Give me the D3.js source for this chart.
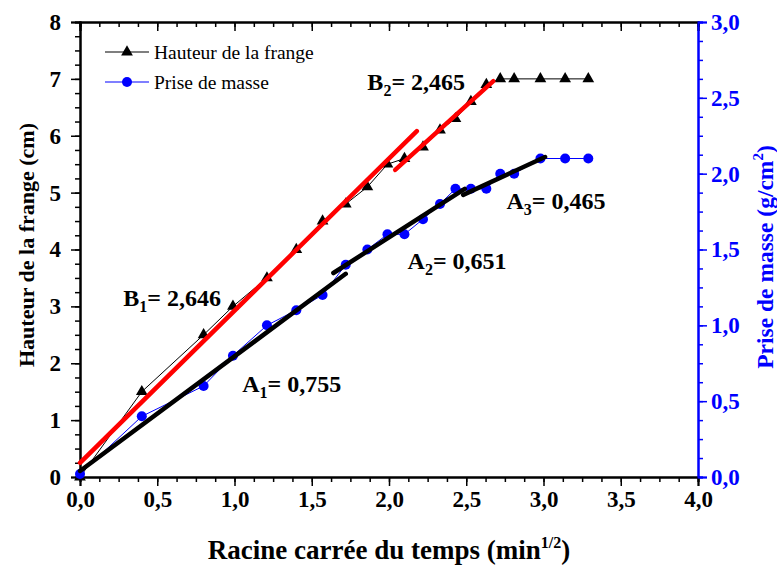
<!DOCTYPE html>
<html><head><meta charset="utf-8">
<script src="https://cdn.jsdelivr.net/npm/d3@7"></script>
<style>body{margin:0;background:#fff}svg{display:block}text{font-family:"Liberation Serif","Times New Roman",serif}</style>
</head><body><svg id="c" width="777" height="567"></svg>
<script>
// Data
const sqrtTime = [0, 0.40, 0.80, 0.99, 1.21, 1.40, 1.57, 1.72, 1.86, 1.99, 2.10, 2.22, 2.33, 2.43, 2.53, 2.63, 2.72, 2.81, 2.98, 3.14, 3.29];
const hauteur = [0, 1.5, 2.5, 3.0, 3.5, 4.0, 4.5, 4.8, 5.1, 5.5, 5.6, 5.8, 6.1, 6.3, 6.6, 6.9, 7.0, 7.0, 7.0, 7.0, 7.0];
const masse = [0.02, 0.4, 0.6, 0.8, 1.0, 1.1, 1.2, 1.4, 1.5, 1.6, 1.6, 1.7, 1.8, 1.9, 1.9, 1.9, 2.0, 2.0, 2.1, 2.1, 2.1];
// fit segments (endpoints)
const fitB1 = [[0, 0.25], [2.18, 6.08]];
const fitB2 = [[2.04, 5.40], [2.675, 6.96]];
const fitA1 = [[0, 0.04], [1.72, 1.34]];
const fitA2 = [[1.64, 1.345], [2.49, 1.90]];
const fitA3 = [[2.48, 1.86], [3.01, 2.11]];
const xTicks = [0, 0.5, 1, 1.5, 2, 2.5, 3, 3.5, 4];
const yLTicks = [0, 1, 2, 3, 4, 5, 6, 7, 8];
const yRTicks = [0, 0.5, 1, 1.5, 2, 2.5, 3];
const legendLabels = ["Hauteur de la frange", "Prise de masse"];
const annotations = [
  {main: "B", sub: "1", rest: "= 2,646", x: 0.28, yL: 3.0},
  {main: "B", sub: "2", rest: "= 2,465", x: 1.86, yL: 6.8},
  {main: "A", sub: "1", rest: "= 0,755", x: 1.05, yL: 1.49},
  {main: "A", sub: "2", rest: "= 0,651", x: 2.12, yL: 3.66},
  {main: "A", sub: "3", rest: "= 0,465", x: 2.76, yL: 4.71}
];

const L = 80, R = 698, T = 22, B = 477;
const svg = d3.select("#c");
const x = d3.scaleLinear().domain([0, 4]).range([L, R]);
const yL = d3.scaleLinear().domain([0, 8]).range([B, T]);
const yR = d3.scaleLinear().domain([0, 3]).range([B, T]);
const fmt = d => d3.format(".1f")(d).replace(".", ",");

const minorX = d3.range(0, 4.0001, 0.125);
const minorYL = d3.range(0, 8.0001, 0.25);
const minorYR = d3.range(0, 3.0001, 0.125);

function styleAxis(g, color) {
  g.select(".domain").attr("stroke", color).attr("stroke-width", 2);
  g.selectAll(".tick line").attr("stroke", color).attr("stroke-width", 1.5);
  g.selectAll(".tick text").attr("fill", color).attr("font-weight", "bold").attr("font-size", 23)
    .style("font-family", '"Liberation Serif","Times New Roman",serif');
}
// minor ticks
svg.append("g").attr("transform", `translate(0,${B})`)
  .call(d3.axisBottom(x).tickValues(minorX).tickSize(5).tickFormat("")).call(g => styleAxis(g, "#000"));
svg.append("g").attr("transform", `translate(0,${T})`)
  .call(d3.axisBottom(x).tickValues(minorX).tickSize(5).tickFormat("")).call(g => styleAxis(g, "#000"));
svg.append("g").attr("transform", `translate(${L},0)`)
  .call(d3.axisLeft(yL).tickValues(minorYL).tickSize(5).tickFormat("")).call(g => styleAxis(g, "#000"));
svg.append("g").attr("transform", `translate(${R},0)`)
  .call(d3.axisRight(yR).tickValues(minorYR).tickSize(5).tickFormat("")).call(g => styleAxis(g, "#00f"));
// major
svg.append("g").attr("transform", `translate(0,${T})`)
  .call(d3.axisBottom(x).tickValues(xTicks).tickSize(9).tickFormat("")).call(g => styleAxis(g, "#000"));
svg.append("g").attr("transform", `translate(0,${B})`)
  .call(d3.axisBottom(x).tickValues(xTicks).tickSize(9).tickPadding(5).tickFormat(fmt)).call(g => styleAxis(g, "#000"));
svg.append("g").attr("transform", `translate(${L},0)`)
  .call(d3.axisLeft(yL).tickValues(yLTicks).tickSize(9).tickPadding(10).tickFormat(d3.format("d"))).call(g => styleAxis(g, "#000"));
svg.append("g").attr("transform", `translate(${R},0)`)
  .call(d3.axisRight(yR).tickValues(yRTicks).tickSize(9).tickPadding(4).tickFormat(fmt)).call(g => styleAxis(g, "#00f"));

// data lines
const pts = sqrtTime.map((t, i) => ({t, h: hauteur[i], m: masse[i]}));
svg.append("path").datum(pts).attr("fill", "none").attr("stroke", "#000").attr("stroke-width", 1)
  .attr("d", d3.line().x(d => x(d.t)).y(d => yL(d.h)));
svg.append("path").datum(pts).attr("fill", "none").attr("stroke", "#00f").attr("stroke-width", 1)
  .attr("d", d3.line().x(d => x(d.t)).y(d => yR(d.m)));
const tri = d3.symbol().type(d3.symbolTriangle).size(60);
svg.append("g").selectAll("path").data(pts).join("path")
  .attr("d", tri).attr("fill", "#000")
  .attr("transform", d => `translate(${x(d.t)},${yL(d.h)})`);
svg.append("g").selectAll("circle").data(pts).join("circle")
  .attr("cx", d => x(d.t)).attr("cy", d => yR(d.m)).attr("r", 5).attr("fill", "#00f");

// fit lines
const segL = d3.line().x(d => x(d[0])).y(d => yL(d[1]));
const segR = d3.line().x(d => x(d[0])).y(d => yR(d[1]));
[fitB1, fitB2].forEach(s => svg.append("path").attr("d", segL(s)).attr("stroke", "#f00").attr("stroke-width", 4.5).attr("stroke-linecap", "round").attr("fill", "none"));
[fitA1, fitA2, fitA3].forEach(s => svg.append("path").attr("d", segR(s)).attr("stroke", "#000").attr("stroke-width", 4.5).attr("stroke-linecap", "round").attr("fill", "none"));

// annotations
annotations.forEach(a => {
  const t = svg.append("text").attr("x", x(a.x)).attr("y", yL(a.yL)).attr("font-weight", "bold").attr("font-size", 24).attr("fill", "#000");
  t.append("tspan").text(a.main);
  t.append("tspan").attr("font-size", 16).attr("dy", 6).text(a.sub);
  t.append("tspan").attr("dy", -6).text(a.rest);
});

// legend
const lg = svg.append("g");
[[0, "#000", "tri"], [1, "#00f", "circ"]].forEach(([i, col, sh]) => {
  const yy = 52 + i * 30;
  lg.append("line").attr("x1", 105).attr("x2", 149).attr("y1", yy).attr("y2", yy).attr("stroke", col).attr("stroke-width", 1.2);
  if (sh === "tri") lg.append("path").attr("d", tri).attr("fill", col).attr("transform", `translate(127,${yy})`);
  else lg.append("circle").attr("cx", 127).attr("cy", yy).attr("r", 5).attr("fill", col);
  lg.append("text").attr("x", 154).attr("y", yy + 7).attr("font-size", 19.5).attr("fill", "#000").text(legendLabels[i]);
});

// axis titles
const xt = svg.append("text").attr("x", (L + R) / 2).attr("y", 559).attr("text-anchor", "middle")
  .attr("font-weight", "bold").attr("font-size", 27);
xt.append("tspan").text("Racine carrée du temps (min");
xt.append("tspan").attr("font-size", 16).attr("dy", -11).text("1/2");
xt.append("tspan").attr("dy", 11).text(")");

svg.append("text").attr("transform", `translate(34,245) rotate(-90)`).attr("text-anchor", "middle")
  .attr("font-weight", "bold").attr("font-size", 22).text("Hauteur de la frange (cm)");
const rt = svg.append("text").attr("transform", `translate(773,257) rotate(-90)`).attr("text-anchor", "middle")
  .attr("font-weight", "bold").attr("font-size", 23.5).attr("fill", "#00f");
rt.append("tspan").text("Prise de masse (g/cm");
rt.append("tspan").attr("font-size", 15).attr("dy", -10).text("2");
rt.append("tspan").attr("dy", 10).text(")");
</script></body></html>
